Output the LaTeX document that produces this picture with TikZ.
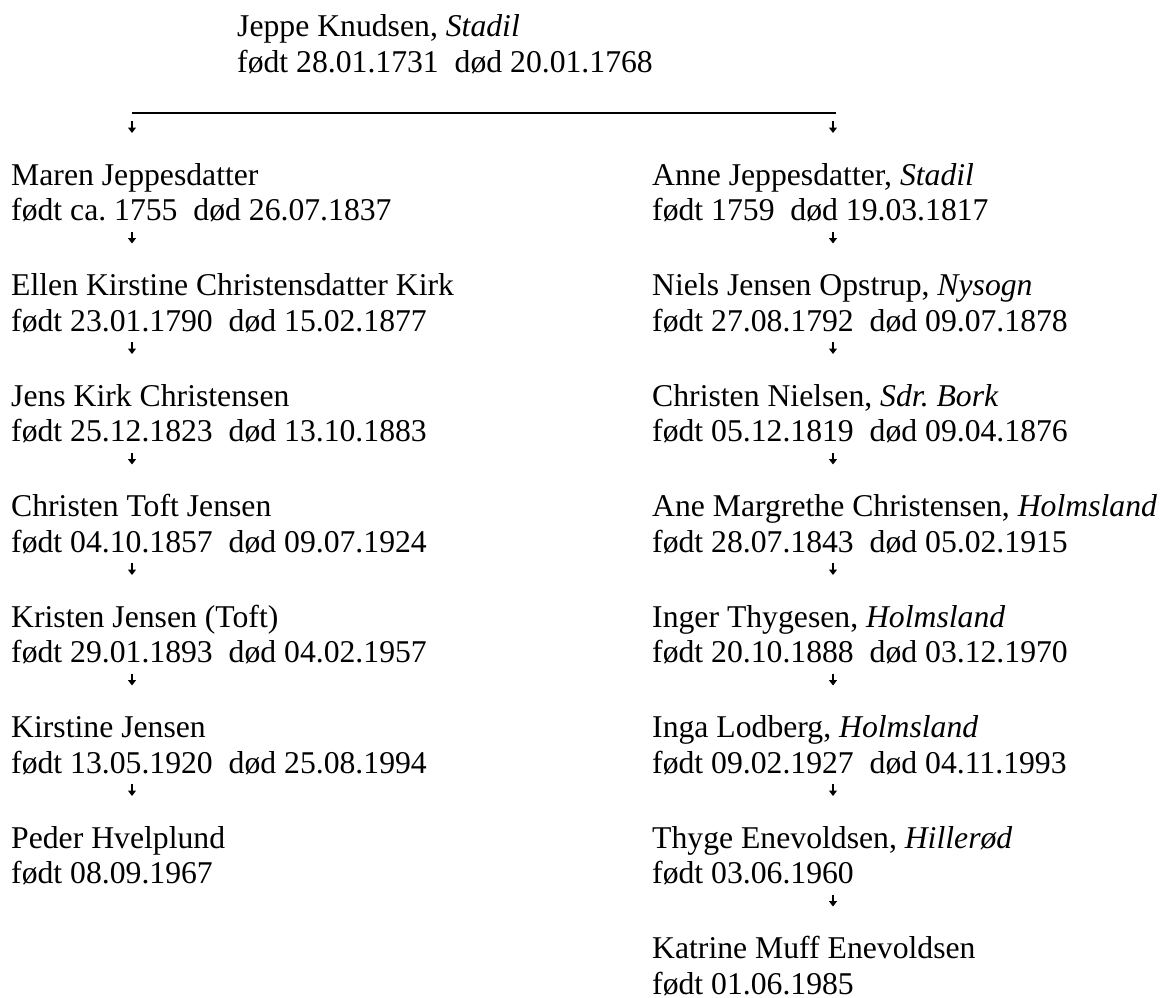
\documentclass[tikz,border=0pt]{standalone}
\usepackage{fontspec}
\setmainfont{Liberation Serif}
\usetikzlibrary{arrows.meta}
\frenchspacing
\tikzset{
  txt/.style={anchor=base west, inner sep=0pt, font=\fontsize{31.7}{36}\selectfont},
  arr/.style={line width=1.3pt, -{Triangle[length=5.5pt,width=8pt]}},
  bar/.style={line width=1.6pt}
}
\newcommand{\gap}{\ \ }
\begin{document}
\begin{tikzpicture}[x=1pt,y=-1pt]
\useasboundingbox (0,0) rectangle (1168,998);
% top person
\node[txt] (j1) at (237,37) {Jeppe Knudsen, \textit{Stadil}};
\node[txt] (j2) at (237,73) {født 28.01.1731\gap død 20.01.1768};
\coordinate (barL) at (132,113);
\coordinate (barR) at (836,113);
\draw[bar] (barL) -- (barR);
\coordinate (tLa) at (132,121); \coordinate (tLb) at (132,133);
\coordinate (tRa) at (833,121); \coordinate (tRb) at (833,133);
\draw[arr] (tLa) -- (tLb);
\draw[arr] (tRa) -- (tRb);
% left column
\foreach \i/\n/\d in {
  0/{Maren Jeppesdatter}/{født ca. 1755\gap død 26.07.1837},
  1/{Ellen Kirstine Christensdatter Kirk}/{født 23.01.1790\gap død 15.02.1877},
  2/{Jens Kirk Christensen}/{født 25.12.1823\gap død 13.10.1883},
  3/{Christen Toft Jensen}/{født 04.10.1857\gap død 09.07.1924},
  4/{Kristen Jensen (Toft)}/{født 29.01.1893\gap død 04.02.1957},
  5/{Kirstine Jensen}/{født 13.05.1920\gap død 25.08.1994},
  6/{Peder Hvelplund}/{født 08.09.1967}}{
  \node[txt] (L\i n) at (11,185+110.5*\i) {\n};
  \node[txt] (L\i d) at (11,220.5+110.5*\i) {\d};
}
\foreach \i in {0,...,5}{
  \coordinate (La\i) at (132,231.5+110.5*\i);
  \coordinate (Lb\i) at (132,243.5+110.5*\i);
  \draw[arr] (La\i) -- (Lb\i);
}
% right column
\foreach \i/\n/\d in {
  0/{Anne Jeppesdatter, \textit{Stadil}}/{født 1759\gap død 19.03.1817},
  1/{Niels Jensen Opstrup, \textit{Nysogn}}/{født 27.08.1792\gap død 09.07.1878},
  2/{Christen Nielsen, \textit{Sdr. Bork}}/{født 05.12.1819\gap død 09.04.1876},
  3/{Ane Margrethe Christensen, \textit{Holmsland}}/{født 28.07.1843\gap død 05.02.1915},
  4/{Inger Thygesen, \textit{Holmsland}}/{født 20.10.1888\gap død 03.12.1970},
  5/{Inga Lodberg, \textit{Holmsland}}/{født 09.02.1927\gap død 04.11.1993},
  6/{Thyge Enevoldsen, \textit{Hillerød}}/{født 03.06.1960},
  7/{Katrine Muff Enevoldsen}/{født 01.06.1985}}{
  \node[txt] (R\i n) at (652,185+110.5*\i) {\n};
  \node[txt] (R\i d) at (652,220.5+110.5*\i) {\d};
}
\foreach \i in {0,...,6}{
  \coordinate (Ra\i) at (833,231.5+110.5*\i);
  \coordinate (Rb\i) at (833,243.5+110.5*\i);
  \draw[arr] (Ra\i) -- (Rb\i);
}
\end{tikzpicture}
\end{document}
